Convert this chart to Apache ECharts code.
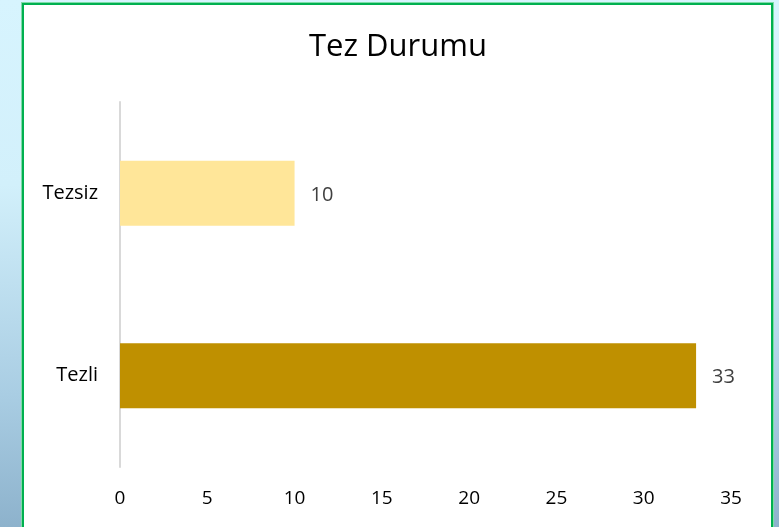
<!DOCTYPE html>
<html>
<head>
<meta charset="utf-8">
<script src="https://cdn.jsdelivr.net/npm/echarts@6/dist/echarts.min.js"></script>
<style>
html,body{margin:0;padding:0;width:779px;height:527px;overflow:hidden;}
body{background:linear-gradient(to bottom,#d7f4fe 0%,#d2f0fb 35%,#a9cde3 75%,#8db2cc 100%);position:relative;}
#box{position:absolute;left:22px;top:3px;width:747px;height:540px;background:#fff;border:2px solid #00b050;box-shadow:0 0 0 1px #7fdca8;}
#chart{position:absolute;left:0;top:0;width:779px;height:527px;}
</style>
</head>
<body>
<div id="box"></div>
<div id="chart"></div>
<script>
const titleText = 'Tez Durumu';
const categories = ['Tezli', 'Tezsiz'];
const values = [33, 10];
const barColors = ['#bf9000', '#ffe699'];
const xTicks = [0, 5, 10, 15, 20, 25, 30, 35];

const chart = echarts.init(document.getElementById('chart'), null, {renderer: 'canvas'});
chart.setOption({
  backgroundColor: 'transparent',
  animation: false,
  title: {
    text: titleText,
    left: 304,
    top: 27,
    textStyle: {fontFamily: 'Open Sans', fontSize: 31, fontWeight: 'normal', color: '#000'}
  },
  grid: {left: 120, right: 48, top: 102, bottom: 60, containLabel: false},
  xAxis: {
    type: 'value',
    min: xTicks[0],
    max: xTicks[xTicks.length - 1],
    interval: 5,
    splitLine: {show: false},
    axisLine: {show: false},
    axisTick: {show: false},
    axisLabel: {margin: 22, fontFamily: 'Open Sans', fontSize: 19, color: '#000'}
  },
  yAxis: {
    type: 'category',
    data: categories,
    axisLine: {show: true, lineStyle: {color: '#d9d9d9', width: 2}},
    axisTick: {show: false},
    axisLabel: {margin: 22, fontFamily: 'Open Sans', fontSize: 20, color: '#000'}
  },
  series: [{
    type: 'bar',
    data: values.map((v, i) => ({value: v, itemStyle: {color: barColors[i]}})),
    barWidth: 65,
    label: {
      show: true,
      position: 'right',
      distance: 16,
      fontFamily: 'Open Sans',
      fontSize: 20,
      color: '#404040',
      offset: [0, 2]
    }
  }]
});
</script>
</body>
</html>
